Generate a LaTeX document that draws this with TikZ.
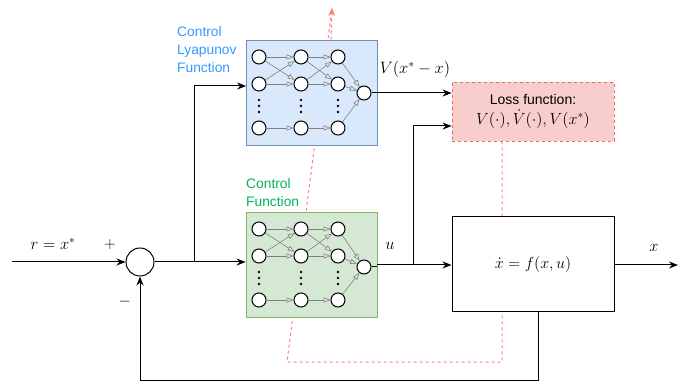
\RequirePackage{fix-cm}
\documentclass[tikz,border=0pt]{standalone}
\usepackage[no-math]{fontspec}
\setmainfont{Liberation Sans}
\usetikzlibrary{arrows.meta,backgrounds}
\definecolor{bluefill}{HTML}{DAE8FC}
\definecolor{blueline}{HTML}{6C8EBF}
\definecolor{greenfill}{HTML}{D5E8D4}
\definecolor{greenline}{HTML}{82B366}
\definecolor{redfill}{HTML}{F8CECC}
\definecolor{redline}{HTML}{EA6B66}
\definecolor{reddash}{HTML}{FF7F7F}
\definecolor{bluetxt}{HTML}{3399FF}
\definecolor{greentxt}{HTML}{00B35A}
\begin{document}
\begin{tikzpicture}[x=1pt,y=-1pt,
  neuron/.style={circle,draw,line width=1pt,fill=white,minimum size=14pt,inner sep=0pt},
  nnedge/.style={draw=gray,line width=0.6pt,-{Triangle[open,length=7pt,width=5pt]}},
  sig/.style={draw,line width=1pt,-{Stealth[length=9pt,width=7pt]}},
  wire/.style={draw,line width=1pt},
  netbox/.style={rectangle,draw,minimum width=131pt,minimum height=105pt,inner sep=0pt,line width=0.8pt},
  plantbox/.style={rectangle,draw,line width=1pt,minimum width=162pt,minimum height=95pt,inner sep=0pt,fill=white,font=\fontsize{16}{18}\selectfont},
  lossbox/.style={rectangle,draw=redline,dashed,fill=redfill,line width=0.8pt,minimum width=162pt,minimum height=59pt,inner sep=0pt,align=center,font=\fontsize{14}{18}\selectfont},
  reddashed/.style={draw=reddash,dashed,line width=1pt},
  lbl/.style={inner sep=0pt,font=\fontsize{16.5}{18}\selectfont},
  captxt/.style={inner sep=0pt,anchor=north west,align=left,font=\fontsize{13.8}{18}\selectfont}
]
\useasboundingbox (0,0) rectangle (678,382);

% boxes
\node[netbox,fill=bluefill,draw=blueline] (blue) at (312,92.5) {};
\node[netbox,fill=greenfill,draw=greenline] (green) at (311.5,264.5) {};
\node[lossbox] (loss) at (533,111.5) {Loss function:\\[2pt]{\fontsize{16.2}{18}\selectfont$V(\cdot),\dot V(\cdot),V(x^*)$}};
\node[plantbox] (plant) at (533,264.5) {$\dot x = f(x,u)$};
\node[circle,draw,line width=1pt,minimum size=28pt,inner sep=0pt,fill=white] (sum) at (140,262) {};

% neural networks
\foreach \p/\t/\o in {b/40/53, g/212/55} {
  \foreach \c/\xx in {1/259,2/301,3/338} {
    \node[neuron] (\p\c1) at (\xx,\t+17) {};
    \node[neuron] (\p\c2) at (\xx,\t+44) {};
    \node[neuron] (\p\c3) at (\xx,\t+88) {};
    \foreach \dy in {60,66,72} \fill (\xx,\t+\dy) circle (1.4pt);
  }
  \node[neuron] (\p o) at (364,\t+\o) {};
  \foreach \a/\b in {1/2,2/3} {
    \draw[nnedge] (\p\a1) -- (\p\b1);
    \draw[nnedge] (\p\a1) -- (\p\b2);
    \draw[nnedge] (\p\a2) -- (\p\b1);
    \draw[nnedge] (\p\a2) -- (\p\b2);
    \draw[nnedge] (\p\a3) -- (\p\b3);
  }
  \draw[nnedge] (\p31) -- (\p o);
  \draw[nnedge] (\p32) -- (\p o);
  \draw[nnedge] (\p33) -- (\p o);
}

% red dashed path (behind)
\coordinate (rdR) at (502,362);
\coordinate (rdL) at (287,362);
\coordinate (rtop) at (332,8);
\begin{pgfonlayer}{background}
\draw[reddashed] (loss.south -| rdR) -- (rdR) -- (rdL) -- (rtop);
\end{pgfonlayer}
\draw[reddashed,-{Stealth[length=8pt,width=7pt]}] (blue.north -| 331,0) -- (rtop);

% signals
\coordinate (in) at (12,262);
\coordinate (br1) at (194,262);
\coordinate (br1t) at (194,86);
\coordinate (br2) at (413,265);
\coordinate (br2t) at (413,126);
\coordinate (outx) at (678,265);
\coordinate (fb1) at (538,380);
\coordinate (fb2) at (140,380);

\draw[sig] (in) -- (sum.west);
\draw[sig] (sum.east) -- (green.west |- sum.east);
\draw[sig] (br1) -- (br1t) -- (blue.west |- br1t);
\draw[wire] (green.east |- br2) -- (br2);
\draw[sig] (green.east |- br2) -- (plant.west |- br2);
\draw[sig] (br2) -- (br2t) -- (loss.west |- br2t);
\draw[sig] (blue.east |- 0,93) -- (loss.west |- 0,93);
\draw[sig] (plant.east |- outx) -- (outx);
\draw[sig] (plant.south -| fb1) -- (fb1) -- (fb2) -- (sum.south);
\draw[line width=1pt] (bo.east) -- (blue.east |- bo.east);
\draw[line width=1pt] (go.east) -- (green.east |- go.east);

% labels
\node[lbl] (lr) at (53,244) {$r = x^*$};
\node[lbl,font=\fontsize{15.5}{17}\selectfont] (lp) at (110,245) {$+$};
\node[lbl,font=\fontsize{15.5}{17}\selectfont] (lm) at (125,302) {$-$};
\node[lbl] (lu) at (390,246) {$u$};
\node[lbl] (lv) at (415,69) {$V(x^*-x)$};
\node[lbl] (lx) at (654,248) {$x$};
\node[captxt,text=bluetxt] (lcl) at (177,26) {Control\\Lyapunov\\Function};
\node[captxt,text=greentxt] (lcf) at (246,178) {Control\\Function};
\end{tikzpicture}
\end{document}
